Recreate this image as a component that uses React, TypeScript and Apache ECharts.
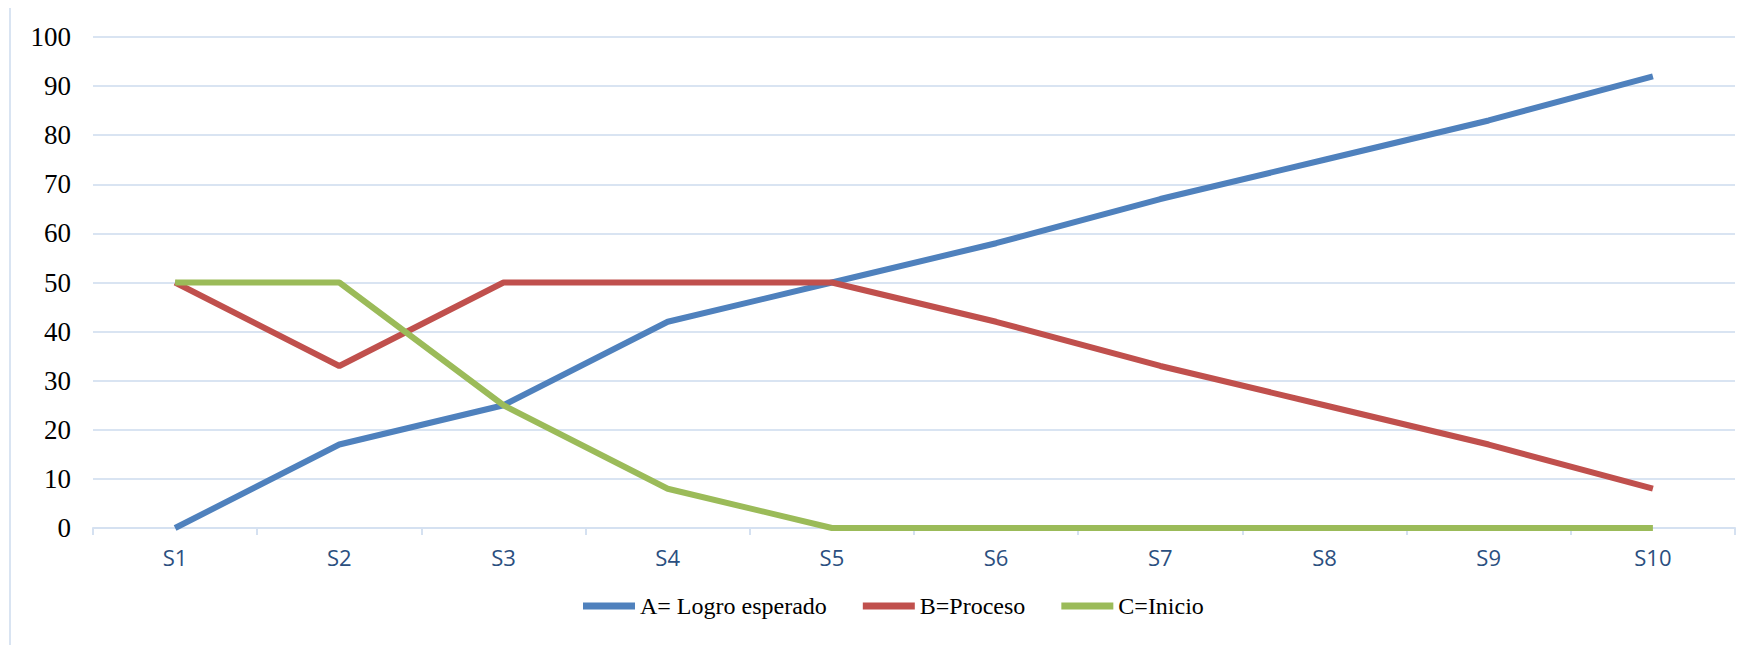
import React, { useEffect, useRef } from "react";
import * as echarts from "echarts";

const categories = ["S1", "S2", "S3", "S4", "S5", "S6", "S7", "S8", "S9", "S10"];
const seriesNames = ["A= Logro esperado", "B=Proceso", "C=Inicio"];
const logroEsperado = [0, 17, 25, 42, 50, 58, 67, 75, 83, 92];
const proceso = [50, 33, 50, 50, 50, 42, 33, 25, 17, 8];
const inicio = [50, 50, 25, 8, 0, 0, 0, 0, 0, 0];
const colors = ["#4F81BD", "#C0504D", "#9BBB59"];

const SERIF = "'Liberation Serif', 'Times New Roman', 'DejaVu Serif', serif";

export default function App() {
  const ref = useRef<HTMLDivElement>(null);
  useEffect(() => {
    document.body.style.margin = "0";
    const chart = echarts.init(ref.current!, null, { renderer: "svg" });
    const data = [logroEsperado, proceso, inicio];
    chart.setOption({
      animation: false,
      backgroundColor: "#ffffff",
      grid: { left: 93, right: 20, top: 37, bottom: 117, containLabel: false },
      legend: {
        bottom: 22,
        left: 578,
        itemWidth: 52,
        itemHeight: 7,
        itemGap: 36,
        icon: "rect",
        textStyle: { fontFamily: SERIF, fontSize: 24, color: "#000" },
        data: seriesNames,
      },
      graphic: [
        {
          type: "line",
          shape: { x1: 10, y1: 8, x2: 10, y2: 645 },
          style: { stroke: "#D9E4F2", lineWidth: 2 },
        },
      ],
      xAxis: {
        type: "category",
        data: categories,
        boundaryGap: true,
        axisLine: { lineStyle: { color: "#D5E1F1", width: 2 } },
        axisTick: { show: true, length: 7, lineStyle: { color: "#D5E1F1", width: 2 } },
        axisLabel: { color: "#2B4F80", fontFamily: "'Open Sans', sans-serif", fontSize: 22, margin: 18 },
      },
      yAxis: {
        type: "value",
        min: 0,
        max: 100,
        interval: 10,
        axisLine: { show: false },
        axisTick: { show: false },
        splitLine: { lineStyle: { color: "#D9E4F2", width: 2 } },
        axisLabel: { color: "#000", fontFamily: SERIF, fontSize: 27, margin: 22 },
      },
      series: data.map((d, i) => ({
        name: seriesNames[i],
        type: "line",
        data: d,
        symbol: "none",
        lineStyle: { color: colors[i], width: 6 },
        itemStyle: { color: colors[i] },
      })),
    });
    return () => chart.dispose();
  }, []);
  return <div ref={ref} style={{ width: 1755, height: 645 }} />;
}
